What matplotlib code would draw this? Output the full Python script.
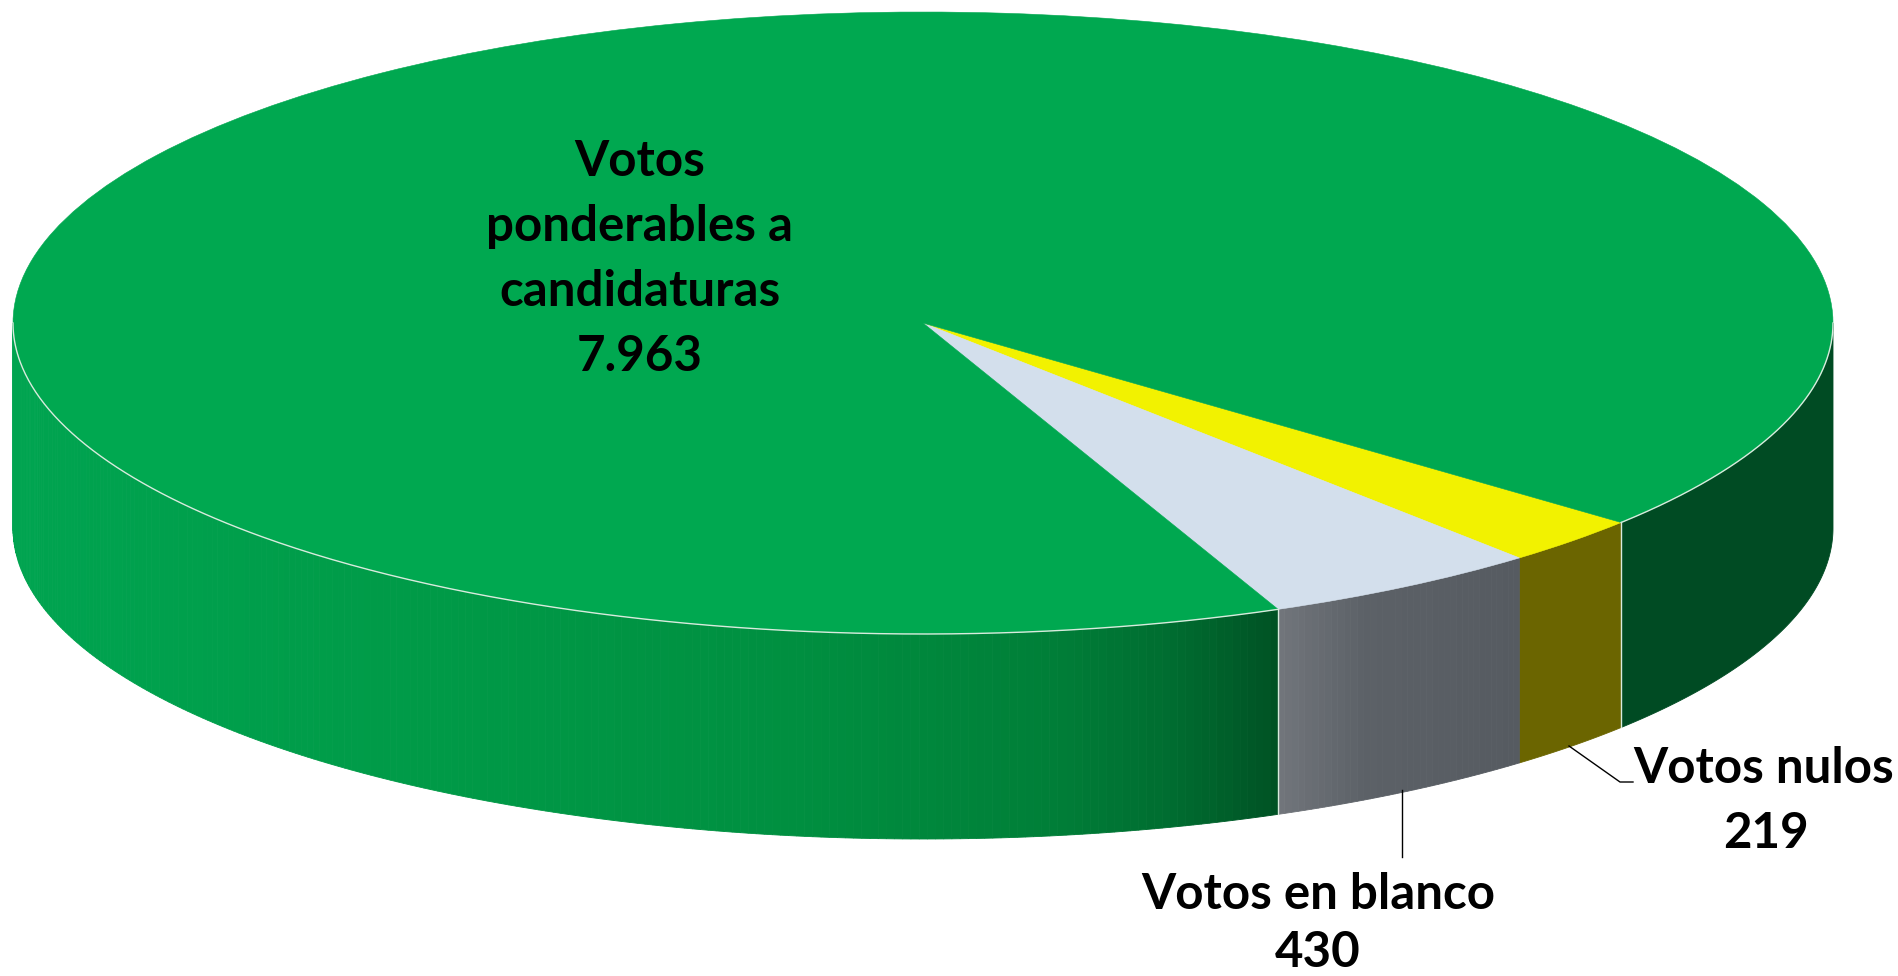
import numpy as np
import matplotlib
matplotlib.use("Agg")
import matplotlib.pyplot as plt
from matplotlib.patches import Wedge
from matplotlib.transforms import Affine2D
from matplotlib.colors import LinearSegmentedColormap

categories = ["Votos nulos", "Votos en blanco", "Votos ponderables a candidaturas"]
values = [219, 430, 7963]
value_labels = ["219", "430", "7.963"]
top_colors = ["#F2F200", "#D3DFEC", "#00A850"]

W, H = 1899, 976
CX, CY, RX, RY, DEPTH = 923, 323, 910, 311, 205
START = -39.9
EDGE = "#D8EBDD"

fig = plt.figure(figsize=(W / 100, H / 100), dpi=100, facecolor="white")
ax = fig.add_axes([0, 0, 1, 1])
ax.set_xlim(0, W)
ax.set_ylim(H, 0)
ax.axis("off")

sweeps = np.array(values) / sum(values) * 360
ends = START - np.cumsum(sweeps)
starts = np.r_[START, ends[:-1]]


def px(theta):
    return CX + RX * np.cos(np.radians(theta))


def py(theta):
    return CY - RY * np.sin(np.radians(theta))


def wall(t0, t1, color):
    t = np.linspace(t0, t1, max(2, int(abs(t1 - t0) * 4)))
    xs = np.r_[px(t), px(t[::-1])]
    ys = np.r_[py(t), py(t[::-1]) + DEPTH]
    ax.fill(xs, ys, color=color, lw=0.6, zorder=2)


# side walls
green_map = LinearSegmentedColormap.from_list(
    "g", [(0, "#00A450"), (0.33, "#009A47"), (0.62, "#008F40"),
          (0.82, "#007F38"), (0.92, "#006C30"), (1, "#005224")])
grey_map = LinearSegmentedColormap.from_list(
    "k", [(0, "#565B61"), (0.65, "#5C6167"), (1, "#72767C")])

wall(0, starts[0], "#004B23")
wall(starts[0], ends[0], "#6B6500")
t_edges = np.linspace(starts[1], ends[1], 40)
for a, b in zip(t_edges[:-1], t_edges[1:]):
    wall(a, b, grey_map((a - t_edges[0]) / (t_edges[-1] - t_edges[0])))
x0, x1 = 14.0, px(starts[2])
t_edges = np.linspace(starts[2], -180, 220)
for a, b in zip(t_edges[:-1], t_edges[1:]):
    wall(a, b, green_map((px(0.5 * (a + b)) - x0) / (x1 - x0)))

# top face
tr = Affine2D().scale(RX, -RY).translate(CX, CY) + ax.transData
for s, e, c in zip(starts, ends, top_colors):
    ax.add_patch(Wedge((0, 0), 1, e, s, facecolor=c, edgecolor=c, lw=0.4,
                       transform=tr, zorder=3))

# pale edges
for a, b in [(starts[2], -180), (0, starts[0])]:
    t = np.linspace(a, b, 300)
    ax.plot(px(t), py(t), color=EDGE, lw=1.0, zorder=4)
for a in (starts[0], starts[2]):
    ax.plot([px(a), px(a)], [py(a), py(a) + DEPTH], color=EDGE, lw=1.0, zorder=4)

# leaders
ax.plot([1402, 1402], [790, 857], color="black", lw=1.0, zorder=5)
ax.plot([1569, 1620, 1633], [746, 782, 782], color="black", lw=1.0, zorder=5)

# labels
font = dict(family="Lato", fontweight="bold", fontsize=35.5, color="black",
            ha="center", va="baseline", zorder=6)
lines = [("Votos", 640, 176), ("ponderables a", 640, 241), ("candidaturas", 640, 306),
         (value_labels[2], 640, 371),
         ("Votos nulos", 1764, 783), (value_labels[0], 1766, 848),
         ("Votos en blanco", 1318, 909), (value_labels[1], 1318, 967)]
for s, x, y in lines:
    ax.text(x, y, s, **font)

fig.savefig("out.png", dpi=100, facecolor="white")
